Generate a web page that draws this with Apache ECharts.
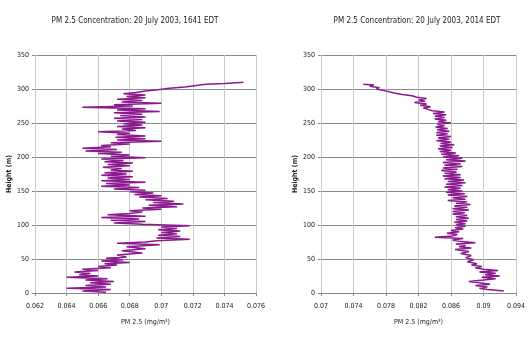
<!DOCTYPE html>
<html>
<head>
<meta charset="utf-8">
<script src="https://cdn.jsdelivr.net/npm/echarts@6/dist/echarts.min.js"></script>
<style>
html,body{margin:0;padding:0;background:#fff;}
#chart{width:528px;height:343px;}
</style>
</head>
<body>
<div id="chart"></div>
<script>
// ---- Data ----
const title1 = 'PM 2.5 Concentration: 20 July 2003, 1641 EDT';
const title2 = 'PM 2.5 Concentration: 20 July 2003, 2014 EDT';
const xName = 'PM 2.5 (mg/m\u00B3)';
const yName = 'Height (m)';

const heightTicks = [0, 50, 100, 150, 200, 250, 300, 350];
const xTicks1 = [0.062, 0.064, 0.066, 0.068, 0.07, 0.072, 0.074, 0.076];
const xTicks2 = [0.07, 0.074, 0.078, 0.082, 0.086, 0.09, 0.094];

// Profile 1 (1641 EDT)
const height1 = [1,3,5,7,9,11,13,15,17,19,21,23,25,27,29,31,33,35,37,39,41,43,45,47,49,51,53,56,59,62,65,68,71,73,75,77,79,81,83,85,87,89,91,93,95,97,99,101,103,105,107,109,111,113,115,117,119,121,123,125,127,129,131,133,135,137,139,141,143,145,147,149,151,153,155,157,159,161,163,165,167,169,171,173,175,177,179,181,183,185,187,189,191,193,195,197,199,201,203,205,207,209,211,213,215,217,219,221,223,225,227,229,231,233,235,237,239,241,243,245,247,249,251,253,255,257,259,261,263,265,267,269,271,273,275,277,279,281,283,285,287,289,291,293,295,297,299,301,303,305,307,308,310];
const pm1 = [0.0665,0.0650,0.0668,0.0640,0.0665,0.0652,0.0668,0.0655,0.0670,0.0652,0.0666,0.0640,0.0660,0.0648,0.0655,0.0645,0.0660,0.0650,0.0668,0.0660,0.0672,0.0664,0.0680,0.0662,0.0676,0.0665,0.0678,0.0672,0.0688,0.0675,0.0690,0.0678,0.0699,0.0672,0.0690,0.0697,0.0718,0.0697,0.0712,0.0698,0.0710,0.0700,0.0712,0.0698,0.0710,0.0700,0.0718,0.0688,0.0670,0.0690,0.0668,0.0686,0.0662,0.0690,0.0666,0.0680,0.0688,0.0680,0.0700,0.0688,0.0710,0.0692,0.0714,0.0695,0.0708,0.0690,0.0704,0.0686,0.0700,0.0683,0.0695,0.0680,0.0690,0.0670,0.0686,0.0662,0.0680,0.0665,0.0690,0.0662,0.0680,0.0666,0.0682,0.0662,0.0678,0.0664,0.0682,0.0668,0.0675,0.0663,0.0680,0.0666,0.0682,0.0664,0.0676,0.0662,0.0690,0.0668,0.0680,0.0660,0.0675,0.0652,0.0672,0.0650,0.0668,0.0662,0.0680,0.0668,0.0700,0.0672,0.0690,0.0671,0.0690,0.0672,0.0680,0.0660,0.0684,0.0675,0.0690,0.0672,0.0688,0.0676,0.0690,0.0672,0.0688,0.0670,0.0690,0.0674,0.0688,0.0670,0.0699,0.0672,0.0690,0.0650,0.0682,0.0670,0.0700,0.0675,0.0688,0.0672,0.0690,0.0678,0.0690,0.0676,0.0684,0.0690,0.0698,0.0705,0.0715,0.0722,0.0728,0.0740,0.0752];

// Profile 2 (2014 EDT)
const height2 = [3,5,7,9,11,13,15,17,19,21,23,25,27,29,31,33,35,37,39,41,43,46,49,52,55,58,61,64,66,68,70,72,74,76,78,80,82,84,86,88,90,92,94,96,98,100,102,104,106,108,110,112,114,116,118,120,122,124,126,128,130,132,134,136,138,140,142,144,146,148,150,152,154,156,158,160,162,164,166,168,170,172,174,176,178,180,182,184,186,188,190,192,194,196,198,200,202,204,206,208,210,212,214,216,218,220,222,224,226,228,230,232,234,236,238,240,242,244,246,248,250,252,254,256,258,260,262,264,266,268,270,272,274,276,278,280,282,284,286,288,290,292,294,296,298,300,302,304,306,307];
const pm2 = [0.0925,0.0905,0.0895,0.0905,0.0890,0.0908,0.0895,0.0882,0.0900,0.0915,0.0898,0.0920,0.0902,0.0915,0.0895,0.0918,0.0900,0.0890,0.0898,0.0885,0.0892,0.0880,0.0888,0.0878,0.0885,0.0872,0.0882,0.0865,0.0885,0.0870,0.0878,0.0866,0.0890,0.0870,0.0862,0.0875,0.0840,0.0862,0.0868,0.0855,0.0870,0.0860,0.0875,0.0865,0.0878,0.0866,0.0878,0.0864,0.0880,0.0866,0.0882,0.0866,0.0880,0.0862,0.0877,0.0862,0.0882,0.0862,0.0880,0.0864,0.0884,0.0866,0.0880,0.0856,0.0878,0.0862,0.0880,0.0856,0.0877,0.0854,0.0874,0.0856,0.0872,0.0852,0.0874,0.0854,0.0878,0.0856,0.0876,0.0852,0.0872,0.0850,0.0872,0.0852,0.0867,0.0848,0.0868,0.0850,0.0874,0.0852,0.0872,0.0850,0.0878,0.0854,0.0874,0.0850,0.0870,0.0848,0.0866,0.0846,0.0860,0.0844,0.0862,0.0846,0.0864,0.0847,0.0860,0.0842,0.0858,0.0844,0.0860,0.0842,0.0856,0.0842,0.0858,0.0843,0.0856,0.0841,0.0852,0.0843,0.0860,0.0844,0.0854,0.0840,0.0852,0.0840,0.0854,0.0838,0.0852,0.0837,0.0832,0.0826,0.0835,0.0822,0.0830,0.0815,0.0828,0.0820,0.0830,0.0818,0.0812,0.0800,0.0790,0.0784,0.0776,0.0768,0.0772,0.0760,0.0765,0.0752];

// ---- Chart ----
const FONT = '"Liberation Sans Narrow", "DejaVu Sans Condensed", "Liberation Sans", sans-serif';
const base1 = xTicks1[0];
const base2 = xTicks2[0];
const step1 = xTicks1[1] - xTicks1[0];
const step2 = xTicks2[1] - xTicks2[0];
const fmt = (v) => String(+v.toFixed(4));

function xAxisFor(gridIndex, base, ticks, step) {
  return {
    gridIndex, type: 'value',
    min: 0, max: +(ticks[ticks.length - 1] - base).toFixed(6), interval: +step.toFixed(6),
    name: xName, nameLocation: 'middle', nameGap: 26,
    nameTextStyle: { fontFamily: FONT, fontSize: 7, color: '#222' },
    axisLine: { show: true, lineStyle: { color: '#8a8a8a', width: 1 } },
    axisTick: { show: true, length: 3, lineStyle: { color: '#8a8a8a' } },
    axisLabel: { fontFamily: FONT, fontSize: 7, color: '#222', margin: 10,
      formatter: (v) => fmt(v + base) },
    splitLine: { show: true, lineStyle: { color: '#c8c8c8', width: 1 } }
  };
}
function yAxisFor(gridIndex) {
  return {
    gridIndex, type: 'value', min: heightTicks[0], max: heightTicks[heightTicks.length - 1],
    interval: heightTicks[1] - heightTicks[0],
    name: yName, nameLocation: 'middle', nameGap: 18, nameRotate: 90,
    nameTextStyle: { fontFamily: FONT, fontSize: 7, color: '#222', fontWeight: 'bold' },
    axisLine: { show: true, lineStyle: { color: '#c8c8c8', width: 1 } },
    axisTick: { show: true, length: 3, lineStyle: { color: '#8a8a8a' } },
    axisLabel: { fontFamily: FONT, fontSize: 7, color: '#222', margin: 6 },
    splitLine: { show: true, lineStyle: { color: '#8a8a8a', width: 1 } }
  };
}

const chart = echarts.init(document.getElementById('chart'), null, { renderer: 'canvas' });
chart.setOption({
  animation: false,
  backgroundColor: '#fff',
  title: [
    { text: title1, left: 130, top: 12, textAlign: 'center',
      textStyle: { fontFamily: FONT, fontSize: 8, fontWeight: 'normal', color: '#222' } },
    { text: title2, left: 412, top: 12, textAlign: 'center',
      textStyle: { fontFamily: FONT, fontSize: 8, fontWeight: 'normal', color: '#222' } }
  ],
  grid: [
    { left: 35, right: 272, top: 55, bottom: 50 },
    { left: 321, right: 7, top: 55, bottom: 50 }
  ],
  xAxis: [xAxisFor(0, base1, xTicks1, step1), xAxisFor(1, base2, xTicks2, step2)],
  yAxis: [yAxisFor(0), yAxisFor(1)],
  series: [
    { type: 'line', xAxisIndex: 0, yAxisIndex: 0, showSymbol: false, symbol: 'none',
      lineStyle: { color: '#8b1a8f', width: 1.5 },
      data: height1.map((h, i) => [pm1[i] - base1, h]) },
    { type: 'line', xAxisIndex: 1, yAxisIndex: 1, showSymbol: false, symbol: 'none',
      lineStyle: { color: '#8b1a8f', width: 1.5 },
      data: height2.map((h, i) => [pm2[i] - base2, h]) }
  ]
});
</script>
</body>
</html>
